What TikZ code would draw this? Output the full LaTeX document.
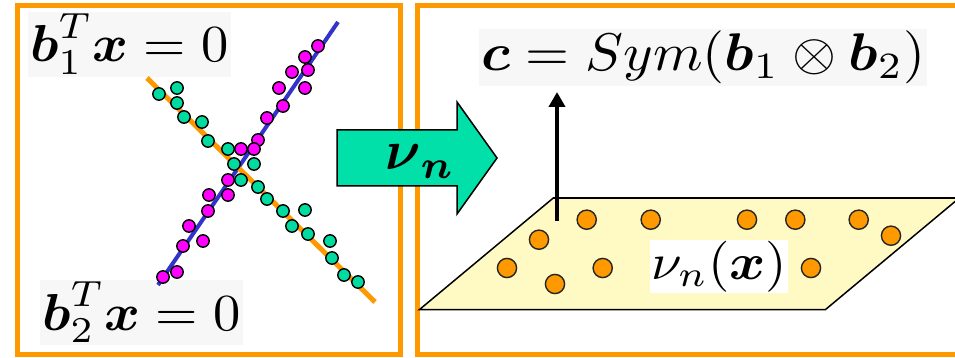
\documentclass[tikz,border=0pt]{standalone}
\usepackage{amsmath}
\usepackage{graphicx}
\usetikzlibrary{arrows.meta}
\definecolor{frameorange}{RGB}{255,153,0}
\definecolor{arrowteal}{RGB}{0,224,168}
\definecolor{dotgreen}{RGB}{0,220,160}
\definecolor{dotpink}{RGB}{255,0,255}
\definecolor{lineblue}{RGB}{51,51,204}
\definecolor{planeyellow}{RGB}{255,250,195}
\definecolor{labelgray}{RGB}{247,247,247}
\newcommand{\bigeq}[3]{\scalebox{#1}[#2]{$#3$}}
\begin{document}
\begin{tikzpicture}[x=1pt,y=-1pt,
  panel/.style={draw=frameorange,line width=5pt},
  pdot/.style={fill=dotpink,draw=black,line width=1.4pt},
  gdot/.style={fill=dotgreen,draw=black,line width=1.4pt},
  odot/.style={fill=frameorange,draw=black!85,line width=1.4pt},
  eqlabel/.style={inner sep=2pt, anchor=base west},
]
\clip (0,0) rectangle (955,358);
\fill[white] (0,0) rectangle (955,358);
% panels
\draw[panel] (17.5,5.8) rectangle (400.5,354.5);
\draw[panel] (417.5,5.8) rectangle (990,354.5);
% left labels
\node[eqlabel, fill=labelgray] (eqone) at (28,62) {\bigeq{5.45}{5.2}{\boldsymbol{b}_1^T\boldsymbol{x}=0}};
\node[eqlabel, fill=labelgray] (eqtwo) at (40,330) {\bigeq{5.45}{5.2}{\boldsymbol{b}_2^T\boldsymbol{x}=0}};
% subspace lines
\draw[lineblue, line width=4pt] (158,285) -- (338,22);
\draw[frameorange, line width=5pt] (147,78) -- (375,302);
% green points
\foreach \p in {(159,94),(177,88),(177,103),(184,117),(202,122),(208,141),(228,149),(234,164),(254,164),(241,180),(258,187),(267,199),(283,211),(305,210),(292,226),(308,234),(330,241),(332,258),(344,275),(358,282)}
  \draw[gdot] \p circle (6.2);
% pink points
\foreach \p in {(318,46),(305,57),(292,72),(308,70),(279,88),(305,88),(283,106),(267,118),(258,140),(241,149),(254,149),(228,180),(209,195),(228,195),(208,211),(189,226),(203,241),(183,246),(177,272),(163,277)}
  \draw[pdot] \p circle (6.2);
% block arrow
\draw[fill=arrowteal, line width=1.5pt, line join=miter] (337,130) -- (457,130) -- (457,102) -- (497,158) -- (457,214) -- (457,186) -- (337,186) -- cycle;
\node[anchor=base west, inner sep=0pt] (nu) at (385,170) {\bigeq{5.5}{5.6}{\boldsymbol{\nu}_{\boldsymbol{n}}}};
% plane
\draw[fill=planeyellow, line width=1.5pt] (419.3,309.7) -- (553.3,198) -- (959.3,198) -- (825.3,309.7) -- cycle;
\foreach \p in {(586.7,219.7),(650.7,219.7),(747,219.7),(795.3,219.7),(858.7,219.7),(891,235.7),(539,239.7),(507,268),(602.7,268),(555,284),(811,268)}
  \draw[odot] \p circle (9.6);
\node[eqlabel, fill=white, inner sep=1pt] (nux) at (650,279) {\bigeq{5.5}{5.1}{\nu_n(\boldsymbol{x})}};
% top label and arrow
\node[eqlabel, fill=labelgray] (csym) at (479,71) {\bigeq{5.65}{5.3}{\boldsymbol{c}=Sym(\boldsymbol{b}_1\otimes\boldsymbol{b}_2)}};
\coordinate (upbase) at (557,221);
\coordinate (uptip) at (557,92);
\draw[line width=4pt, -{Triangle[width=16pt,length=15pt]}] (upbase) -- (uptip);
\end{tikzpicture}
\end{document}
